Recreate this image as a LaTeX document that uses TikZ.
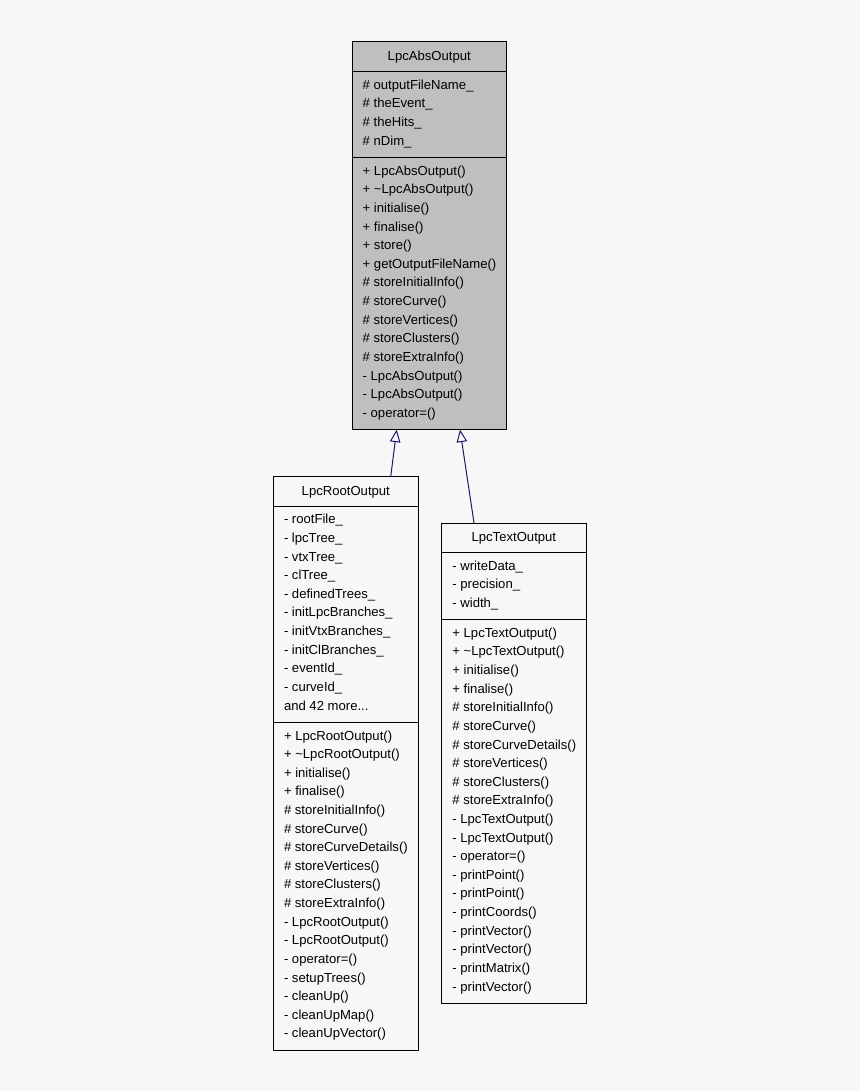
\documentclass[tikz,border=0pt]{standalone}
\usepackage{fontspec}
\setmainfont{Liberation Sans}
\usetikzlibrary{arrows.meta}
\definecolor{bg}{HTML}{F7F7F7}
\definecolor{absfill}{HTML}{BFBFBF}
\definecolor{edgecol}{HTML}{191970}
\newcommand{\umlrows}[4]{\foreach \txt [count=\i] in {#4} {\node[rowtext] (#1-\i) at ({#2+10.5},{#3+17.6+(\i-1)*18.62}) {\txt};}}
\tikzset{
  rowtext/.style={anchor=base west, inner sep=0pt, font=\fontsize{13.1}{15}\selectfont},
  titletext/.style={anchor=base, inner sep=0pt, font=\fontsize{13.1}{15}\selectfont},
  classbox/.style={draw=black, line width=1pt, anchor=north west, inner sep=0pt, outer sep=0pt},
  sepline/.style={draw=black, line width=1pt},
  inherit/.style={draw=edgecol, line width=1pt, -{Triangle[open,length=12.5pt,width=10.5pt]}}
}
\begin{document}
\begin{tikzpicture}[x=1pt,y=-1pt]
\fill[bg] (0,0) rectangle (860,1091);
\useasboundingbox (0,0) rectangle (860,1091);
% LpcAbsOutput
\node[classbox, fill=absfill, minimum width=154.5pt, minimum height=387.6pt] (abs) at (352,42) {};
\node[titletext] (abs-title) at (429.25,60.7) {LpcAbsOutput};
\draw[sepline] (352,71.7) -- (506.5,71.7);
\draw[sepline] (352,157.6) -- (506.5,157.6);
\umlrows{absa}{352}{71.7}{\# outputFileName\_, \# theEvent\_, \# theHits\_, \# nDim\_}
\umlrows{absm}{352}{157.6}{+ LpcAbsOutput(), + \textasciitilde LpcAbsOutput(), + initialise(), + finalise(), + store(), + getOutputFileName(), \# storeInitialInfo(), \# storeCurve(), \# storeVertices(), \# storeClusters(), \# storeExtraInfo(), - LpcAbsOutput(), - LpcAbsOutput(), - operator=()}
% LpcRootOutput
\node[classbox, fill=bg, minimum width=145pt, minimum height=573.6pt] (root) at (273.3,476.7) {};
\node[titletext] (root-title) at (345.8,495.4) {LpcRootOutput};
\draw[sepline] (273.3,506.2) -- (418.3,506.2);
\draw[sepline] (273.3,722.4) -- (418.3,722.4);
\umlrows{roota}{273.3}{506.2}{- rootFile\_, - lpcTree\_, - vtxTree\_, - clTree\_, - definedTrees\_, - initLpcBranches\_, - initVtxBranches\_, - initClBranches\_, - eventId\_, - curveId\_}
\node[rowtext] (roota-11) at (283.8,710.0) {and 42 more...};
\umlrows{rootm}{273.3}{722.4}{+ LpcRootOutput(), + \textasciitilde LpcRootOutput(), + initialise(), + finalise(), \# storeInitialInfo(), \# storeCurve(), \# storeCurveDetails(), \# storeVertices(), \# storeClusters(), \# storeExtraInfo(), - LpcRootOutput(), - LpcRootOutput(), - operator=(), - setupTrees(), - cleanUp(), - cleanUpMap(), - cleanUpVector()}
% LpcTextOutput
\node[classbox, fill=bg, minimum width=144.3pt, minimum height=480.5pt] (text) at (441.7,523) {};
\node[titletext] (text-title) at (513.85,541.7) {LpcTextOutput};
\draw[sepline] (441.7,552.5) -- (586,552.5);
\draw[sepline] (441.7,619.7) -- (586,619.7);
\umlrows{texta}{441.7}{552.5}{- writeData\_, - precision\_, - width\_}
\umlrows{textm}{441.7}{619.7}{+ LpcTextOutput(), + \textasciitilde LpcTextOutput(), + initialise(), + finalise(), \# storeInitialInfo(), \# storeCurve(), \# storeCurveDetails(), \# storeVertices(), \# storeClusters(), \# storeExtraInfo(), - LpcTextOutput(), - LpcTextOutput(), - operator=(), - printPoint(), - printPoint(), - printCoords(), - printVector(), - printVector(), - printMatrix(), - printVector()}
% inheritance
\draw[inherit] ([xshift=117.4pt]root.north west) -- ([xshift=44.7pt]abs.south west);
\draw[inherit] ([xshift=32.3pt]text.north west) -- ([xshift=108pt]abs.south west);
\end{tikzpicture}
\end{document}
